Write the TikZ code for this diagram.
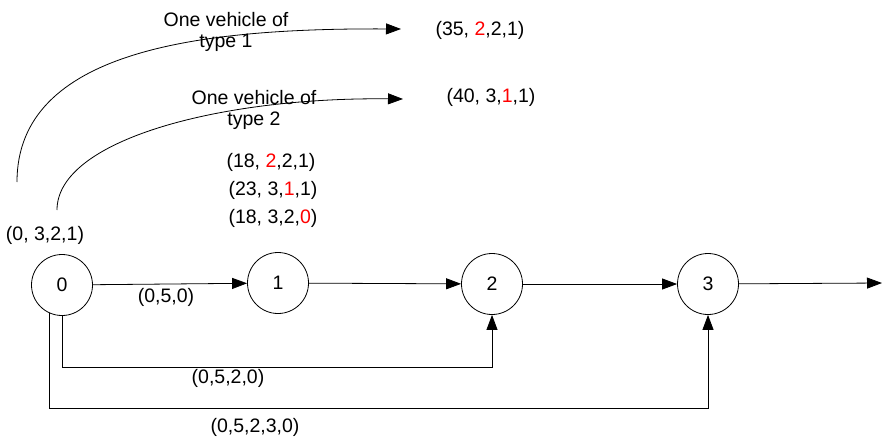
\documentclass[tikz,border=0pt]{standalone}
\usepackage{fontspec}
\setmainfont{Liberation Sans}
\usetikzlibrary{arrows.meta,positioning}
\tikzset{
  vertex/.style={circle, draw, minimum size=61pt, inner sep=0pt},
  arrow/.style={draw, -{Triangle[length=15pt,width=11pt]}},
  lbl/.style={inner sep=0pt, align=center}
}

\begin{document}
\begin{tikzpicture}[x=1pt, y=-1pt, font=\fontsize{19.5pt}{21pt}\selectfont, line width=0.8pt]

\useasboundingbox (0,0) rectangle (882,436);

% route nodes
\node [vertex] (n0) at (62,285) {0};
\node [vertex] (n1) at (278,283) {1};
\node [vertex] (n2) at (492,284) {2};
\node [vertex] (n3) at (708,284) {3};
\coordinate (end) at (882,283);

% arcs
\draw [arrow] (n0) -- (n1);
\draw [arrow] (n1) -- (n2);
\draw [arrow] (n2) -- (n3);
\draw [arrow] (n3) -- (end);
\draw [arrow] (n0.south) -- ++(0,51) -| (n2.south);
\draw [arrow] (n0.246) -- ++(0,95) -| (n3.south);

\node [lbl] (arc01) at (166,297) {(0,5,0)};
\node [lbl] (arc02) at (228,378) {(0,5,2,0)};
\node [lbl] (arc03) at (255,427) {(0,5,2,3,0)};

% labels
\node [lbl] (lab0) at (45,235) {(0, 3,2,1)};
\node [lbl] (lab2a) at (271,162) {(18, \textcolor{red}{2},2,1)};
\node [lbl] (lab2b) at (273,190) {(23, 3,\textcolor{red}{1},1)};
\node [lbl] (lab2c) at (273,218) {(18, 3,2,\textcolor{red}{0})};
\node [lbl] (labv1) at (480,30) {(35, \textcolor{red}{2},2,1)};
\node [lbl] (labv2) at (491,97) {(40, 3,\textcolor{red}{1},1)};

% vehicle extensions
\coordinate (s1) at (17,182);
\coordinate (t1) at (401,29);
\coordinate (s2) at (57,210);
\coordinate (t2) at (403,99);
\draw [arrow] (s1) .. controls (17,50) and (200,28) .. (t1);
\draw [arrow] (s2) .. controls (57,140) and (220,97) .. (t2);

\node [lbl] (veh1) at (226,32) {One vehicle of\\type 1};
\node [lbl] (veh2) at (254,110) {One vehicle of\\type 2};

\end{tikzpicture}
\end{document}
